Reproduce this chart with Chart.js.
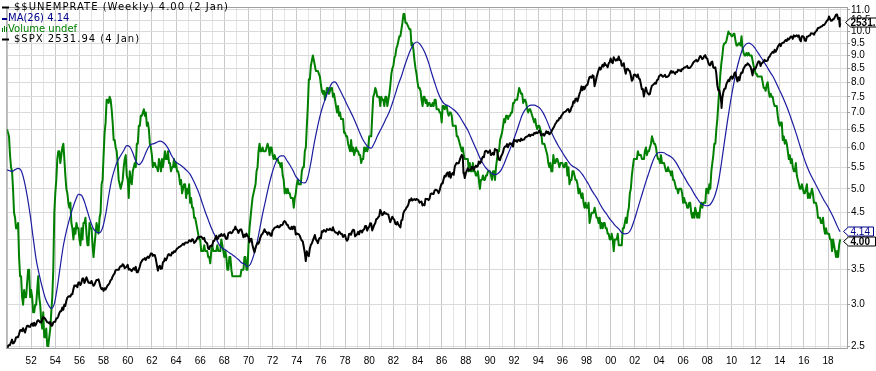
<!DOCTYPE html>
<html><head><meta charset="utf-8">
<script src="https://cdn.jsdelivr.net/npm/chart.js@4.4.1/dist/chart.umd.min.js"></script>
<style>html,body{margin:0;padding:0;background:#fff;}#wrap{position:relative;width:876px;height:371px;}canvas{display:block;}</style>
</head><body><div id="wrap"><canvas id="c" width="876" height="371"></canvas></div>
<script>
// ---------------- DATA ----------------
const firstYear = 1950;
// $$UNEMPRATE monthly values, one row per year 1950..2018
const unemploymentRate = [
[6.5,6.4,6.3,5.8,5.5,5.4,5.0,4.5,4.4,4.2,4.2,4.3],
[3.7,3.4,3.4,3.1,3.0,3.2,3.1,3.1,3.3,3.5,3.5,3.1],
[3.2,3.1,2.9,2.9,3.0,3.0,3.2,3.4,3.1,3.0,2.8,2.7],
[2.9,2.6,2.6,2.7,2.5,2.5,2.6,2.7,2.9,3.1,3.5,4.5],
[4.9,5.2,5.7,5.9,5.9,5.6,5.8,6.0,6.1,5.7,5.3,5.0],
[4.9,4.7,4.6,4.7,4.3,4.2,4.0,4.2,4.1,4.3,4.2,4.2],
[4.0,3.9,4.2,4.0,4.3,4.3,4.4,4.1,3.9,3.9,4.3,4.2],
[4.2,3.9,3.7,3.9,4.1,4.3,4.2,4.1,4.4,4.5,5.1,5.2],
[5.8,6.4,6.7,7.4,7.4,7.3,7.5,7.4,7.1,6.7,6.2,6.2],
[6.0,5.9,5.6,5.2,5.1,5.0,5.1,5.2,5.5,5.7,5.8,5.3],
[5.2,4.8,5.4,5.2,5.1,5.4,5.5,5.6,5.5,6.1,6.1,6.6],
[6.6,6.9,6.9,7.0,7.1,6.9,7.0,6.6,6.7,6.5,6.1,6.0],
[5.8,5.5,5.6,5.6,5.5,5.5,5.4,5.7,5.6,5.4,5.7,5.5],
[5.7,5.9,5.7,5.7,5.9,5.6,5.6,5.4,5.5,5.5,5.7,5.5],
[5.6,5.4,5.4,5.3,5.1,5.2,4.9,5.0,5.1,5.1,4.8,5.0],
[4.9,5.1,4.7,4.8,4.6,4.6,4.4,4.4,4.3,4.2,4.1,4.0],
[4.0,3.8,3.8,3.8,3.9,3.8,3.8,3.8,3.7,3.7,3.6,3.8],
[3.9,3.8,3.8,3.8,3.8,3.9,3.8,3.8,3.8,4.0,3.9,3.8],
[3.7,3.8,3.7,3.5,3.5,3.7,3.7,3.5,3.4,3.4,3.4,3.4],
[3.4,3.4,3.4,3.4,3.4,3.5,3.5,3.5,3.7,3.7,3.5,3.5],
[3.9,4.2,4.4,4.6,4.8,4.9,5.0,5.1,5.4,5.5,5.9,6.1],
[5.9,5.9,6.0,5.9,5.9,5.9,6.0,6.1,6.0,5.8,6.0,6.0],
[5.8,5.7,5.8,5.7,5.7,5.7,5.6,5.6,5.5,5.6,5.3,5.2],
[4.9,5.0,4.9,5.0,4.9,4.9,4.8,4.8,4.8,4.6,4.8,4.9],
[5.1,5.2,5.1,5.1,5.1,5.4,5.5,5.5,5.9,6.0,6.6,7.2],
[8.1,8.1,8.6,8.8,9.0,8.8,8.6,8.4,8.4,8.4,8.3,8.2],
[7.9,7.7,7.6,7.7,7.4,7.6,7.8,7.8,7.6,7.7,7.8,7.8],
[7.5,7.6,7.4,7.2,7.0,7.2,6.9,7.0,6.8,6.8,6.8,6.4],
[6.4,6.3,6.3,6.1,6.0,5.9,6.2,5.9,6.0,5.8,5.9,6.0],
[5.9,5.9,5.8,5.8,5.6,5.7,5.7,6.0,5.9,6.0,5.9,6.0],
[6.3,6.3,6.3,6.9,7.5,7.6,7.8,7.7,7.5,7.5,7.5,7.2],
[7.5,7.4,7.4,7.2,7.5,7.5,7.2,7.4,7.6,7.9,8.3,8.5],
[8.6,8.9,9.0,9.3,9.4,9.6,9.8,9.8,10.1,10.4,10.8,10.8],
[10.4,10.4,10.3,10.2,10.1,10.1,9.4,9.5,9.2,8.8,8.5,8.3],
[8.0,7.8,7.8,7.7,7.4,7.2,7.5,7.5,7.3,7.4,7.2,7.3],
[7.3,7.2,7.2,7.3,7.2,7.4,7.4,7.1,7.1,7.1,7.0,7.0],
[6.7,7.2,7.2,7.1,7.2,7.2,7.0,6.9,7.0,7.0,6.9,6.6],
[6.6,6.6,6.6,6.3,6.3,6.2,6.1,6.0,5.9,6.0,5.8,5.7],
[5.7,5.7,5.7,5.4,5.6,5.4,5.4,5.6,5.4,5.4,5.3,5.3],
[5.4,5.2,5.0,5.2,5.2,5.3,5.2,5.2,5.3,5.3,5.4,5.4],
[5.4,5.3,5.2,5.4,5.4,5.2,5.5,5.7,5.9,5.9,6.2,6.3],
[6.4,6.6,6.8,6.7,6.9,6.9,6.8,6.9,6.9,7.0,7.0,7.3],
[7.3,7.4,7.4,7.4,7.6,7.8,7.7,7.6,7.6,7.3,7.4,7.4],
[7.3,7.1,7.0,7.1,7.1,7.0,6.9,6.8,6.7,6.8,6.6,6.5],
[6.6,6.6,6.5,6.4,6.1,6.1,6.1,6.0,5.9,5.8,5.6,5.5],
[5.6,5.4,5.4,5.8,5.6,5.6,5.7,5.7,5.6,5.5,5.6,5.6],
[5.6,5.5,5.5,5.6,5.6,5.3,5.5,5.1,5.2,5.2,5.4,5.4],
[5.3,5.2,5.2,5.1,4.9,5.0,4.9,4.8,4.9,4.7,4.6,4.7],
[4.6,4.6,4.7,4.3,4.4,4.5,4.5,4.5,4.6,4.5,4.4,4.4],
[4.3,4.4,4.2,4.3,4.2,4.3,4.3,4.2,4.2,4.1,4.1,4.0],
[4.0,4.1,4.0,3.8,4.0,4.0,4.0,4.1,3.9,3.9,3.9,3.9],
[4.2,4.2,4.3,4.4,4.3,4.5,4.6,4.9,5.0,5.3,5.5,5.7],
[5.7,5.7,5.7,5.9,5.8,5.8,5.8,5.7,5.7,5.7,5.9,6.0],
[5.8,5.9,5.9,6.0,6.1,6.3,6.2,6.1,6.1,6.0,5.8,5.7],
[5.7,5.6,5.8,5.6,5.6,5.6,5.5,5.4,5.4,5.5,5.4,5.4],
[5.3,5.4,5.2,5.2,5.1,5.0,5.0,4.9,5.0,5.0,5.0,4.9],
[4.7,4.8,4.7,4.7,4.6,4.6,4.7,4.7,4.5,4.4,4.5,4.4],
[4.6,4.5,4.4,4.5,4.4,4.6,4.7,4.6,4.7,4.7,4.7,5.0],
[5.0,4.9,5.1,5.0,5.4,5.6,5.8,6.1,6.1,6.5,6.8,7.3],
[7.8,8.3,8.7,9.0,9.4,9.5,9.5,9.6,9.8,10.0,9.9,9.9],
[9.8,9.8,9.9,9.9,9.6,9.4,9.4,9.5,9.5,9.4,9.8,9.3],
[9.1,9.0,9.0,9.1,9.0,9.1,9.0,9.0,9.0,8.8,8.6,8.5],
[8.3,8.3,8.2,8.2,8.2,8.2,8.2,8.0,7.8,7.8,7.7,7.9],
[8.0,7.7,7.5,7.6,7.5,7.5,7.3,7.2,7.2,7.2,6.9,6.7],
[6.6,6.7,6.7,6.2,6.3,6.1,6.2,6.1,5.9,5.7,5.8,5.6],
[5.7,5.5,5.4,5.4,5.6,5.3,5.2,5.1,5.0,5.0,5.1,5.0],
[4.9,4.9,5.0,5.1,4.8,4.9,4.8,4.9,5.0,4.9,4.7,4.7],
[4.7,4.6,4.4,4.4,4.4,4.3,4.3,4.4,4.2,4.1,4.2,4.1],
[4.1,4.1,4.0,4.0,3.8,4.0,3.9,3.8,3.7,3.8,3.7,3.9]
];
const unemploymentLast = 4.00;   // 2 Jan 2019

// MA(26) read quarterly (end of Mar, Jun, Sep, Dec), one row per year 1950..2018
const ma26Start = 5.43;
const ma26Quarterly = [
[5.42,5.40,5.44,5.47],[5.42,5.19,4.85,4.46],[4.03,3.66,3.43,3.24],[3.09,3.00,2.95,3.01],
[3.24,3.56,3.89,4.15],[4.37,4.57,4.75,4.88],[4.86,4.72,4.52,4.33],[4.19,4.13,4.12,4.21],
[4.46,4.84,5.20,5.46],[5.66,5.79,5.92,6.05],[6.02,5.86,5.65,5.56],[5.63,5.80,5.98,6.08],
[6.10,6.14,6.17,6.14],[6.06,5.93,5.77,5.65],[5.59,5.54,5.48,5.41],[5.33,5.20,5.05,4.89],
[4.70,4.52,4.36,4.21],[4.09,3.97,3.88,3.84],[3.81,3.77,3.74,3.70],[3.66,3.61,3.59,3.55],
[3.59,3.72,3.90,4.17],[4.47,4.75,5.05,5.32],[5.55,5.71,5.78,5.78],[5.67,5.56,5.43,5.28],
[5.20,5.14,5.13,5.26],[5.61,6.06,6.48,6.88],[7.21,7.49,7.76,7.97],[8.01,7.86,7.65,7.45],
[7.24,7.05,6.86,6.65],[6.44,6.25,6.11,6.01],[5.98,6.11,6.30,6.47],[6.64,6.83,7.02,7.29],
[7.60,7.93,8.21,8.57],[8.91,9.22,9.45,9.55],[9.48,9.30,9.05,8.72],[8.33,7.99,7.68,7.44],
[7.29,7.23,7.18,7.11],[7.03,6.92,6.77,6.62],[6.47,6.28,6.09,5.91],[5.73,5.59,5.48,5.41],
[5.35,5.32,5.35,5.43],[5.58,5.77,5.96,6.17],[6.40,6.66,6.92,7.09],[7.19,7.23,7.23,7.19],
[7.12,6.98,6.79,6.57],[6.36,6.19,6.04,5.91],[5.78,5.67,5.57,5.51],[5.47,5.41,5.32,5.21],
[5.10,4.97,4.87,4.77],[4.65,4.55,4.47,4.38],[4.31,4.24,4.19,4.12],[4.10,4.11,4.18,4.33],
[4.52,4.73,4.94,5.16],[5.37,5.59,5.77,5.86],[5.87,5.86,5.81,5.77],[5.71,5.61,5.48,5.35],
[5.23,5.11,5.01,4.89],[4.79,4.70,4.66,4.64],[4.65,4.73,4.88,5.15],[5.59,6.14,6.73,7.33],
[7.90,8.43,8.88,9.25],[9.44,9.50,9.45,9.32],[9.13,8.95,8.77,8.58],[8.39,8.22,8.01,7.78],
[7.57,7.34,7.10,6.84],[6.58,6.32,6.05,5.81],[5.59,5.41,5.26,5.13],[5.00,4.87,4.75,4.65],
[4.54,4.42,4.29,4.17]
];
const ma26Last = 4.14;

// $SPX month-end closes, one row per year 1950..2018
const spxStart = 16.76;
const spxMonthEnd = [
[17.05,17.22,17.29,17.96,18.78,17.69,17.84,18.42,19.45,19.53,19.51,20.41],
[21.66,21.80,21.40,22.43,21.52,20.96,22.40,23.28,23.26,22.94,22.88,23.77],
[24.14,23.26,24.37,23.32,23.86,24.96,25.40,25.03,24.54,24.52,25.66,26.57],
[26.38,25.90,25.29,24.62,24.54,24.14,24.75,23.32,23.35,24.54,24.76,24.81],
[26.08,26.15,26.94,28.26,29.19,29.21,30.88,29.83,32.31,31.68,34.24,35.98],
[36.63,36.76,36.58,37.96,37.91,41.03,43.52,43.18,43.67,42.34,45.51,45.48],
[43.82,45.34,48.48,48.38,45.20,46.97,49.39,47.51,45.35,45.58,45.08,46.67],
[44.72,43.26,44.11,45.74,47.43,47.37,47.91,45.22,42.42,41.06,41.72,39.99],
[41.70,40.84,42.10,43.44,44.09,45.24,47.19,47.75,50.06,51.33,52.48,55.21],
[55.42,55.41,55.44,57.59,58.68,58.47,60.51,59.60,56.88,57.52,58.28,59.89],
[55.61,56.12,55.34,54.37,55.83,56.92,55.51,58.07,53.39,53.39,55.54,58.11],
[61.78,63.44,65.06,65.31,66.56,64.64,66.76,68.07,66.73,68.62,71.32,71.55],
[68.84,69.96,69.55,65.24,59.63,54.75,58.23,59.12,56.27,56.52,62.26,63.10],
[66.20,64.29,66.57,69.80,70.80,69.37,69.13,72.50,71.70,74.01,73.23,75.02],
[77.04,77.80,78.98,79.46,80.37,81.69,83.18,81.83,84.18,84.86,84.42,84.75],
[87.56,87.43,86.16,89.11,88.42,84.12,85.25,87.17,89.96,92.42,91.61,92.43],
[92.88,91.22,89.23,91.06,86.13,84.74,83.60,77.10,76.56,80.20,80.45,80.33],
[86.61,86.78,90.20,94.01,89.08,90.64,94.75,93.64,96.71,93.90,94.00,96.47],
[92.24,89.36,90.20,97.59,98.68,99.58,97.74,98.86,102.67,103.41,108.37,103.86],
[103.01,98.13,101.51,103.69,103.46,97.71,91.83,95.51,93.12,97.24,93.81,92.06],
[85.02,89.50,89.63,81.52,76.55,72.72,78.05,81.52,84.21,83.25,87.20,92.15],
[95.88,96.75,100.31,103.95,99.63,99.70,95.58,99.03,98.34,94.23,93.99,102.09],
[103.94,106.57,107.20,107.67,109.53,107.14,107.39,111.09,110.55,111.58,116.67,118.05],
[116.03,111.68,111.52,106.97,104.95,104.26,108.22,104.25,108.43,108.29,95.96,97.55],
[96.57,96.22,93.98,90.31,87.28,86.00,79.31,72.15,63.54,73.90,69.97,68.56],
[76.98,81.59,83.36,87.30,91.15,95.19,88.75,86.88,83.87,89.04,91.24,90.19],
[100.86,99.71,102.77,101.64,100.18,104.28,103.44,102.91,105.24,102.90,102.10,107.46],
[102.03,99.82,98.42,98.44,96.12,100.48,98.85,96.77,96.53,92.34,94.83,95.10],
[89.25,87.04,89.21,96.83,97.24,95.53,100.68,103.29,102.54,93.15,94.70,96.11],
[99.93,96.28,101.59,101.76,99.08,102.91,103.81,109.32,109.32,101.82,106.16,107.94],
[114.16,113.66,102.09,106.29,111.24,114.24,121.67,122.38,125.46,127.47,140.52,135.76],
[129.55,131.27,136.00,132.81,132.59,131.21,130.92,122.79,116.18,121.89,126.35,122.55],
[120.40,113.11,111.96,116.44,111.88,109.61,107.09,119.51,120.42,133.71,138.54,140.64],
[145.30,148.06,152.96,164.42,162.39,168.11,162.56,164.40,166.07,163.55,166.40,164.93],
[163.41,157.06,159.18,160.05,150.55,153.18,150.66,166.68,166.10,166.09,163.58,167.24],
[179.63,181.18,180.66,179.83,189.55,191.85,190.92,188.63,182.08,189.82,202.17,211.28],
[211.78,226.92,238.90,235.52,247.35,250.84,236.12,252.93,231.32,243.98,249.22,242.17],
[274.08,284.20,291.70,288.36,290.10,304.00,318.66,329.80,321.83,251.79,230.30,247.08],
[257.07,267.82,258.89,261.33,262.16,273.50,272.02,261.52,271.91,278.97,273.70,277.72],
[297.47,288.86,294.87,309.64,320.52,317.98,346.08,351.45,349.15,340.36,345.99,353.40],
[329.08,331.89,339.94,330.80,361.23,358.02,356.15,322.56,306.05,304.00,322.22,330.22],
[343.93,367.07,375.22,375.34,389.83,371.16,387.81,395.43,387.86,392.46,375.22,417.09],
[408.79,412.70,403.69,414.95,415.35,408.14,424.21,414.03,417.80,418.68,431.35,435.71],
[438.78,443.38,451.67,440.19,450.19,450.53,448.13,463.56,458.93,467.83,461.79,466.45],
[481.61,467.14,445.77,450.91,456.50,444.27,458.26,475.49,462.69,472.35,453.69,459.27],
[470.42,487.39,500.71,514.71,533.40,544.75,562.06,561.88,584.41,581.50,605.37,615.93],
[636.02,640.43,645.50,654.17,669.12,670.63,639.95,651.99,687.31,705.27,757.02,740.74],
[786.16,790.82,757.12,801.34,848.28,885.14,954.29,899.47,947.28,914.62,955.40,970.43],
[980.28,1049.34,1101.75,1111.75,1090.82,1133.84,1120.67,957.28,1017.01,1098.67,1163.63,1229.23],
[1279.64,1238.33,1286.37,1335.18,1301.84,1372.71,1328.72,1320.41,1282.71,1362.93,1388.91,1469.25],
[1394.46,1366.42,1498.58,1452.43,1420.60,1454.60,1430.83,1517.68,1436.51,1429.40,1314.95,1320.28],
[1366.01,1239.94,1160.33,1249.46,1255.82,1224.38,1211.23,1133.58,1040.94,1059.78,1139.45,1148.08],
[1130.20,1106.73,1147.39,1076.92,1067.14,989.82,911.62,916.07,815.28,885.76,936.31,879.82],
[855.70,841.15,848.18,916.92,963.59,974.50,990.31,1008.01,995.97,1050.71,1058.20,1111.92],
[1131.13,1144.94,1126.21,1107.30,1120.68,1140.84,1101.72,1104.24,1114.58,1130.20,1173.82,1211.92],
[1181.27,1203.60,1180.59,1156.85,1191.50,1191.33,1234.18,1220.33,1228.81,1207.01,1249.48,1248.29],
[1280.08,1280.66,1294.87,1310.61,1270.09,1270.20,1276.66,1303.82,1335.85,1377.94,1400.63,1418.30],
[1438.24,1406.82,1420.86,1482.37,1530.62,1503.35,1455.27,1473.99,1526.75,1549.38,1481.14,1468.36],
[1378.55,1330.63,1322.70,1385.59,1400.38,1280.00,1267.38,1282.83,1166.36,968.75,896.24,903.25],
[825.88,735.09,797.87,872.81,919.14,919.32,987.48,1020.62,1057.08,1036.19,1095.63,1115.10],
[1073.87,1104.49,1169.43,1186.69,1089.41,1030.71,1101.60,1049.33,1141.20,1183.26,1180.55,1257.64],
[1286.12,1327.22,1325.83,1363.61,1345.20,1320.64,1292.28,1218.89,1131.42,1253.30,1246.96,1257.60],
[1312.41,1365.68,1408.47,1397.91,1310.33,1362.16,1379.32,1406.58,1440.67,1412.16,1416.18,1426.19],
[1498.11,1514.68,1569.19,1597.57,1630.74,1606.28,1685.73,1632.97,1681.55,1756.54,1805.81,1848.36],
[1782.59,1859.45,1872.34,1883.95,1923.57,1960.23,1930.67,2003.37,1972.29,2018.05,2067.56,2058.90],
[1994.99,2104.50,2067.89,2085.51,2107.39,2063.11,2103.84,1972.18,1920.03,2079.36,2080.41,2043.94],
[1940.24,1932.23,2059.74,2065.30,2096.95,2098.86,2173.60,2170.95,2168.27,2126.15,2198.81,2238.83],
[2278.87,2363.64,2362.72,2384.20,2411.80,2423.41,2470.30,2471.65,2519.36,2575.26,2647.58,2673.61],
[2823.81,2713.83,2640.87,2648.05,2705.27,2718.37,2816.29,2901.52,2913.98,2711.74,2760.17,2506.85]
];
// weekly extremes that the monthly closes miss: [decimal year, close]
const spxWeeklyExtras = [[1987.81,248.2],[2009.18,683.4],[2018.97,2416.6],[2019.01,2531.94]];

// axis ticks / labels
const rateTicks = [2.5,3.0,3.5,4.0,4.5,5.0,5.5,6.0,6.5,7.0,7.5,8.0,8.5,9.0,9.5,10.0,10.5,11.0];
const yearTicks = Array.from({length: 70}, (_, i) => 1950 + i);
const labelledYears = [1952,1954,1956,1958,1960,1962,1964,1966,1968,1970,1972,1974,1976,1978,1980,1982,1984,1986,1988,1990,1992,1994,1996,1998,2000,2002,2004,2006,2008,2010,2012,2014,2016,2018];

const legendLines = [
  {text: '$$UNEMPRATE (Weekly) 4.00 (2 Jan)', color: '#000000'},
  {text: 'MA(26) 4.14', color: '#00008b'},
  {text: 'Volume undef', color: '#008000'},
  {text: '$SPX 2531.94 (4 Jan)', color: '#000000'}
];

// ---------------- BUILD POINTS ----------------
const unempPts = [];
unemploymentRate.forEach((row, i) => row.forEach((v, m) => unempPts.push({x: firstYear + i + m / 12, y: v})));
unempPts.push({x: 2019.0, y: unemploymentLast});

const maPts = [{x: 1950.0, y: ma26Start}];
ma26Quarterly.forEach((row, i) => row.forEach((v, q) => maPts.push({x: firstYear + i + (3 * q + 2) / 12, y: v})));
maPts.push({x: 2019.0, y: ma26Last});

let spxPts = [{x: 1950.0, y: spxStart}];
spxMonthEnd.forEach((row, i) => row.forEach((v, m) => spxPts.push({x: firstYear + i + (m + 1) / 12 - 0.004, y: v})));
spxWeeklyExtras.forEach(p => spxPts.push({x: p[0], y: p[1]}));
spxPts.sort((a, b) => a.x - b.x);

// ---------------- CHART ----------------
const X_MIN = 1949.935, X_MAX = 2019.57;
const R_MIN = 2.4784, R_MAX = 11.143;
const S_MIN = 16.49, S_MAX = 3269;
const AXIS_FONT = {family: 'Liberation Sans, Arial, sans-serif', size: 10};

const overlay = {
  id: 'overlay',
  afterDraw(chart) {
    const ctx = chart.ctx, a = chart.chartArea;
    ctx.save();
    // left and top frame
    ctx.strokeStyle = '#a0a0a0'; ctx.lineWidth = 1;
    ctx.beginPath();
    ctx.moveTo(a.left + 0.5, a.bottom); ctx.lineTo(a.left + 0.5, a.top + 0.5); ctx.lineTo(a.right, a.top + 0.5);
    ctx.stroke();
    // legend
    const prop = '10px "DejaVu Sans"';
    const hasSpacing = ('letterSpacing' in ctx);
    function spaced(on) {
      if (hasSpacing) { ctx.font = prop; ctx.letterSpacing = on ? '1px' : '0px'; }
      else { ctx.font = on ? '10.5px "DejaVu Sans Mono"' : prop; }
    }
    ctx.textBaseline = 'middle';
    const ys = [7.5, 18.7, 29.3, 39.6];
    ctx.fillStyle = '#000'; ctx.fillRect(2, 6.5, 7, 2);
    spaced(true); ctx.fillStyle = legendLines[0].color; ctx.fillText(legendLines[0].text, 14, ys[0]);
    ctx.fillStyle = '#00008b'; ctx.fillRect(2, 18, 5, 2);
    spaced(false); ctx.fillStyle = legendLines[1].color; ctx.fillText(legendLines[1].text, 8, ys[1]);
    ctx.fillStyle = '#008000';
    ctx.fillRect(2, 28, 1, 4); ctx.fillRect(4, 26, 1, 6); ctx.fillRect(6, 27, 1, 5);
    ctx.fillText(legendLines[2].text, 8, ys[2]);
    ctx.fillStyle = '#000'; ctx.fillRect(2, 38.5, 7, 2);
    spaced(true); ctx.fillStyle = legendLines[3].color; ctx.fillText(legendLines[3].text, 14, ys[3]);
    spaced(false);

    // value tags on right axis
    const yS = chart.scales.y2.getPixelForValue(spxWeeklyExtras[spxWeeklyExtras.length - 1][1]);
    let yMa = chart.scales.y.getPixelForValue(ma26Last);
    let yU = chart.scales.y.getPixelForValue(unemploymentLast);
    const need = 10;
    if (yU - yMa < need) { const d = (need - (yU - yMa)) / 2; yMa -= d; yU += d; }
    function tag(tipX, cy, rightX, text, stroke, color, bold, textDx) {
      ctx.beginPath();
      ctx.moveTo(tipX, cy); ctx.lineTo(tipX + 5, cy - 4.5); ctx.lineTo(rightX, cy - 4.5);
      ctx.lineTo(rightX, cy + 4.5); ctx.lineTo(tipX + 5, cy + 4.5); ctx.closePath();
      ctx.fillStyle = '#fff'; ctx.fill();
      ctx.strokeStyle = stroke; ctx.lineWidth = 1; ctx.stroke();
      ctx.font = (bold ? 'bold ' : '') + '10px "Liberation Sans", Arial, sans-serif';
      ctx.fillStyle = color; ctx.textBaseline = 'middle';
      ctx.fillText(text, tipX + textDx, cy + 0.5);
    }
    tag(845.5, Math.round(yS) - 0.5, 890, '2531.94', '#000', '#000', true, 5);
    tag(843.5, Math.round(yMa) + 0.5, 873.5, '4.14', '#00008b', '#00008b', false, 7);
    tag(843.5, Math.round(yU) + 0.5, 875.5, '4.00', '#000', '#000', true, 7);
    ctx.restore();
  }
};

new Chart(document.getElementById('c'), {
  type: 'line',
  data: {
    datasets: [
      {label: '$SPX', data: spxPts, yAxisID: 'y2', borderColor: '#000000', borderWidth: 2, pointRadius: 0, tension: 0},
      {label: 'MA(26)', data: maPts, yAxisID: 'y', borderColor: '#1c1ca0', borderWidth: 1.2, pointRadius: 0, cubicInterpolationMode: 'monotone'},
      {label: '$$UNEMPRATE', data: unempPts, yAxisID: 'y', borderColor: '#008000', borderWidth: 2, pointRadius: 0, tension: 0}
    ]
  },
  options: {
    responsive: false, animation: false, devicePixelRatio: 1, parsing: false, normalized: true,
    layout: {padding: {left: 4, top: 1, right: 0, bottom: 0}},
    plugins: {legend: {display: false}, tooltip: {enabled: false}},
    elements: {line: {borderJoinStyle: 'round'}},
    scales: {
      x: {
        type: 'linear', position: 'bottom', min: X_MIN, max: X_MAX,
        afterBuildTicks: s => { s.ticks = yearTicks.map(v => ({value: v})); s.min = X_MIN; s.max = X_MAX; },
        afterFit: s => { s.height = 23; },
        grid: {color: c => (c.tick && c.tick.value % 2 === 0) ? '#c9c9c9' : '#e3e3e3', drawTicks: false},
        border: {display: true, color: '#a0a0a0'},
        ticks: {autoSkip: false, maxRotation: 0, minRotation: 0, padding: 7, font: AXIS_FONT, color: '#000',
          callback: v => labelledYears.includes(v) ? String(v % 100).padStart(2, '0') : ''}
      },
      y: {
        type: 'logarithmic', position: 'right', min: R_MIN, max: R_MAX,
        afterBuildTicks: s => { s.ticks = rateTicks.map(v => ({value: v})); s.min = R_MIN; s.max = R_MAX; },
        afterFit: s => { s.width = 29; },
        grid: {color: '#dadada', drawTicks: true, tickLength: 3, tickColor: '#a0a0a0'},
        border: {display: true, color: '#a0a0a0'},
        ticks: {autoSkip: false, padding: 1, font: AXIS_FONT, color: '#000', callback: v => Number(v).toFixed(1)}
      },
      y2: {
        type: 'logarithmic', display: false, min: S_MIN, max: S_MAX,
        afterBuildTicks: s => { s.min = S_MIN; s.max = S_MAX; }
      }
    }
  },
  plugins: [overlay]
});
</script></body></html>
